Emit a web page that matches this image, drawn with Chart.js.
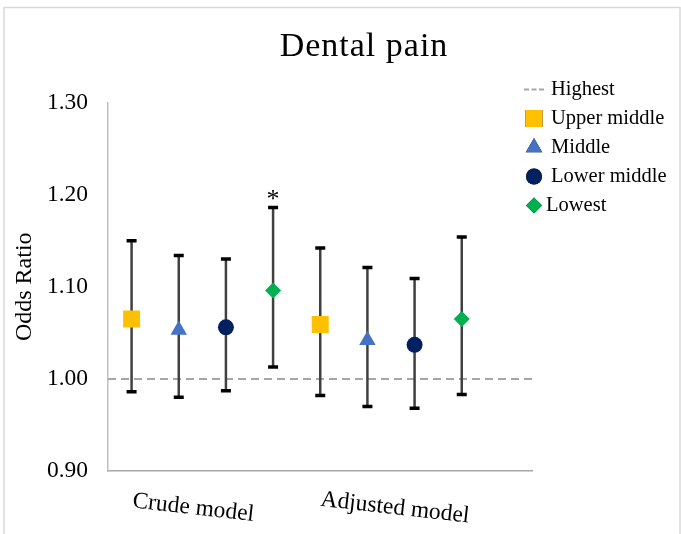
<!DOCTYPE html>
<html>
<head>
<meta charset="utf-8">
<script src="https://cdn.jsdelivr.net/npm/chart.js@4/dist/chart.umd.min.js"></script>
<style>
  html, body { margin: 0; padding: 0; background: #ffffff; }
  #wrap { width: 681px; height: 534px; position: relative; }
</style>
</head>
<body>
<div id="wrap"><canvas id="c" width="681" height="534"></canvas></div>
<script>
// ---------------- data ----------------
const chartTitle = 'Dental pain';
const yAxisTitle = 'Odds Ratio';
const groups = ['Crude model', 'Adjusted model'];
const seriesNames = ['Upper middle', 'Middle', 'Lower middle', 'Lowest'];
const referenceName = 'Highest';
const referenceValue = 1.00;
const yTicks = [0.90, 1.00, 1.10, 1.20, 1.30];

// odds ratios and 95% CI (per group: crude, adjusted)
const orUpperMiddle = [1.065, 1.059];
const loUpperMiddle = [0.986, 0.982];
const hiUpperMiddle = [1.150, 1.142];

const orMiddle = [1.053, 1.042];
const loMiddle = [0.980, 0.970];
const hiMiddle = [1.134, 1.121];

const orLowerMiddle = [1.056, 1.037];
const loLowerMiddle = [0.987, 0.968];
const hiLowerMiddle = [1.130, 1.109];

const orLowest = [1.096, 1.065];
const loLowest = [1.013, 0.983];
const hiLowest = [1.186, 1.154];

const sigUpperMiddle = ['', ''];
const sigMiddle = ['', ''];
const sigLowerMiddle = ['', ''];
const sigLowest = ['*', ''];

// ---------------- styles ----------------
const SERIF = '"Liberation Serif", "Times New Roman", serif';
const styles = [
  { pointStyle: 'rect',     radius: 12,  color: '#FFC000' },
  { pointStyle: 'triangle', radius: 9.5, color: '#4472C4' },
  { pointStyle: 'circle',   radius: 8,   color: '#002060' },
  { pointStyle: 'rectRot',  radius: 8,   color: '#00B050' }
];
const seriesData = [
  { or: orUpperMiddle, lo: loUpperMiddle, hi: hiUpperMiddle, sig: sigUpperMiddle },
  { or: orMiddle,      lo: loMiddle,      hi: hiMiddle,      sig: sigMiddle },
  { or: orLowerMiddle, lo: loLowerMiddle, hi: hiLowerMiddle, sig: sigLowerMiddle },
  { or: orLowest,      lo: loLowest,      hi: hiLowest,      sig: sigLowest }
];
const nS = seriesNames.length;
const slotX = (g, s) => g * nS + s + 0.5;

// ---------------- datasets ----------------
const datasets = [];
datasets.push({
  type: 'line', label: referenceName,
  data: [{ x: 0, y: referenceValue }, { x: groups.length * nS + 1, y: referenceValue }],
  borderColor: '#A6A6A6', borderWidth: 2, borderDash: [8, 5],
  pointRadius: 0, order: 5
});
seriesData.forEach((sd, s) => {
  const w = [];
  groups.forEach((g, gi) => {
    w.push({ x: slotX(gi, s), y: sd.lo[gi] });
    w.push({ x: slotX(gi, s), y: sd.hi[gi] });
    w.push({ x: slotX(gi, s), y: null });
  });
  datasets.push({
    type: 'line', label: seriesNames[s] + ' CI', data: w, spanGaps: false,
    borderColor: '#404040', borderWidth: 2.5,
    pointStyle: 'line', pointRadius: 5, pointBorderWidth: 3.5,
    pointBorderColor: '#000000', pointBackgroundColor: '#000000',
    order: 2
  });
});
seriesData.forEach((sd, s) => {
  datasets.push({
    type: 'scatter', label: seriesNames[s],
    data: groups.map((g, gi) => ({ x: slotX(gi, s), y: sd.or[gi] })),
    pointStyle: styles[s].pointStyle, pointRadius: styles[s].radius,
    backgroundColor: styles[s].color, borderColor: styles[s].color, borderWidth: 0,
    order: 0
  });
});

// ---------------- decorations plugin ----------------
const deco = {
  id: 'deco',
  beforeDraw(chart) {
    const ctx = chart.ctx;
    ctx.save();
    ctx.fillStyle = '#ffffff';
    ctx.fillRect(0, 0, chart.width, chart.height);
    ctx.strokeStyle = '#D9D9D9';
    ctx.lineWidth = 1.5;
    ctx.strokeRect(4, 7.5, 676, 560);
    ctx.restore();
  },
  afterDraw(chart) {
    const ctx = chart.ctx;
    const xs = chart.scales.x, ys = chart.scales.y;
    ctx.save();
    // title
    ctx.fillStyle = '#000';
    ctx.font = '34px ' + SERIF;
    if ('letterSpacing' in ctx) ctx.letterSpacing = '1px';
    ctx.textAlign = 'center';
    ctx.textBaseline = 'alphabetic';
    ctx.fillText(chartTitle, 364, 56);
    if ('letterSpacing' in ctx) ctx.letterSpacing = '0px';

    // category labels (rotated)
    ctx.font = '23.5px ' + SERIF;
    const catOffsets = [-9, 4];
    groups.forEach((g, gi) => {
      const center = (slotX(gi, 0) + slotX(gi, nS - 1)) / 2;
      const px = xs.getPixelForValue(center) + catOffsets[gi];
      ctx.save();
      ctx.translate(px, 508);
      ctx.rotate(6.5 * Math.PI / 180);
      ctx.textAlign = 'center';
      ctx.textBaseline = 'middle';
      ctx.fillText(g, 0, 0);
      ctx.restore();
    });

    // significance marks
    ctx.font = '26px ' + SERIF;
    ctx.textAlign = 'center';
    ctx.textBaseline = 'alphabetic';
    seriesData.forEach((sd, s) => {
      sd.sig.forEach((m, gi) => {
        if (!m) return;
        const px = xs.getPixelForValue(slotX(gi, s));
        const py = ys.getPixelForValue(sd.hi[gi]);
        ctx.fillText(m, px, py - 1);
      });
    });

    // legend
    const lx = 534, tx = 551, y0 = 89.5, dy = 29;
    ctx.font = '20.5px ' + SERIF;
    ctx.textAlign = 'left';
    ctx.textBaseline = 'middle';
    ctx.strokeStyle = '#A6A6A6';
    ctx.lineWidth = 2;
    ctx.setLineDash([5, 2.5]);
    ctx.beginPath();
    ctx.moveTo(524, y0); ctx.lineTo(544, y0);
    ctx.stroke();
    ctx.setLineDash([]);
    ctx.fillStyle = '#000';
    ctx.fillText(referenceName, tx, y0);
    seriesNames.forEach((n, s) => {
      const y = y0 + dy * (s + 1);
      Chart.helpers.drawPoint(ctx, {
        pointStyle: styles[s].pointStyle, radius: styles[s].radius, rotation: 0, borderWidth: 0
      }, lx, y);
      ctx.fillStyle = styles[s].color;
      ctx.fill();
      ctx.fillStyle = '#000';
      ctx.fillText(n, styles[s].pointStyle === 'rectRot' ? tx - 5 : tx, y);
    });
    ctx.restore();
  }
};

new Chart(document.getElementById('c'), {
  data: { datasets },
  options: {
    responsive: false,
    animation: false,
    devicePixelRatio: 1,
    layout: { padding: { left: 0, top: 102.5, right: 148.5, bottom: 63 } },
    plugins: { legend: { display: false }, tooltip: { enabled: false }, title: { display: false } },
    scales: {
      x: {
        type: 'linear', min: 0, max: groups.length * nS + 1,
        ticks: { display: false },
        grid: { display: false, drawTicks: false },
        border: { display: true, color: '#A6A6A6', width: 1.5 },
        afterFit(scale) { scale.height = 0; }
      },
      y: {
        type: 'linear', min: yTicks[0], max: yTicks[yTicks.length - 1],
        afterBuildTicks(scale) { scale.ticks = yTicks.map(v => ({ value: v })); },
        ticks: {
          padding: 20, color: '#000',
          font: { family: SERIF, size: 23.5 },
          callback: v => Number(v).toFixed(2)
        },
        grid: { display: false, drawTicks: false },
        border: { display: true, color: '#BFBFBF', width: 1.5 },
        title: {
          display: true, text: yAxisTitle, color: '#000',
          font: { family: SERIF, size: 24 },
          padding: { top: 10, bottom: 0 }
        },
        afterFit(scale) { scale.width = 108; }
      }
    }
  },
  plugins: [deco]
});
</script>
</body>
</html>
